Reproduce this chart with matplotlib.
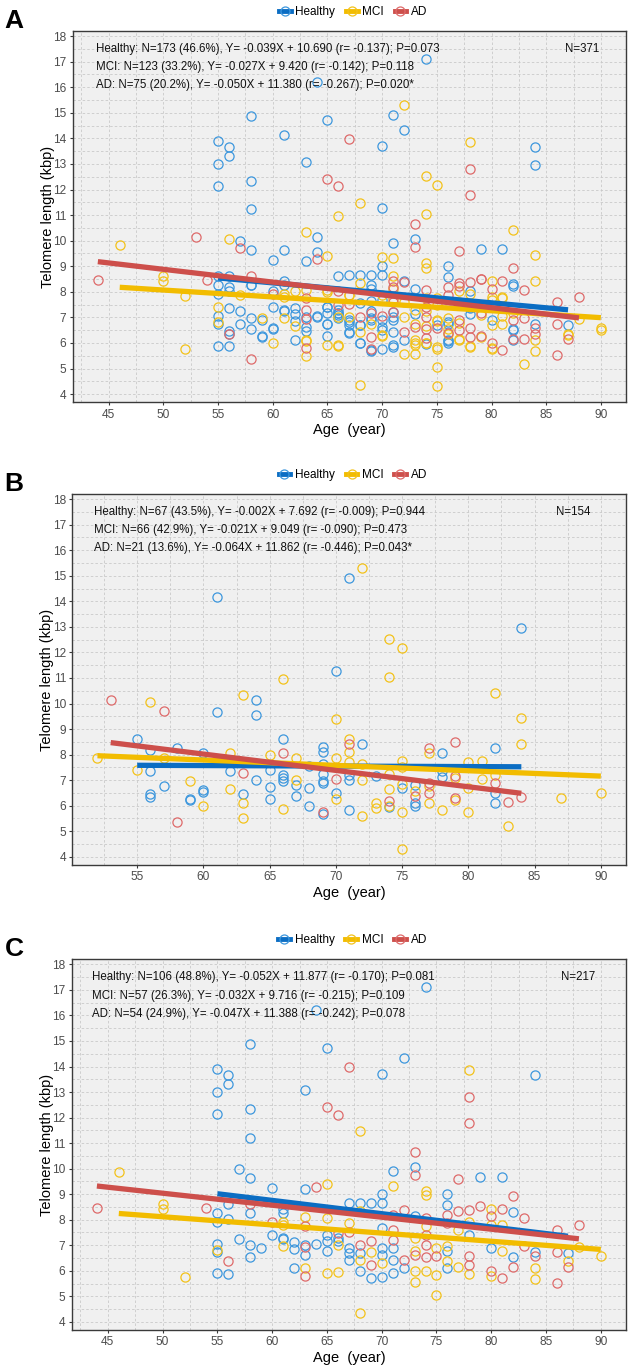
import matplotlib
matplotlib.use("Agg")
import matplotlib.pyplot as plt
from matplotlib.lines import Line2D
from matplotlib.ticker import MultipleLocator
import numpy as np

plt.rcParams['font.family'] = ['Liberation Sans', 'DejaVu Sans']

# ---------------- data ----------------
groups = ["Healthy", "MCI", "AD"]

# Panel B subset
b_h_age = [61, 70, 71, 84, 64, 64, 61, 55, 56, 58, 56, 56, 56, 57, 59, 59, 60, 60, 60, 62, 63, 64, 65, 65, 65,
           66, 66, 66, 66, 67, 67, 68, 68, 68, 69, 69, 69, 69, 69, 69, 69, 70, 72, 71, 71, 71, 73, 74, 75, 76,
           76, 76, 78, 78, 78, 82, 82, 82]
b_h_tl = [14.15, 11.28, 14.92, 12.95, 10.14, 9.54, 9.65, 8.6, 8.17, 8.25, 7.36, 6.45, 6.36, 6.76, 6.28, 6.23,
          6.6, 6.55, 8.05, 7.36, 6.45, 7.0, 7.39, 6.74, 6.26, 8.6, 7.19, 7.1, 6.97, 6.82, 6.39, 7.56, 6.69, 5.98,
          8.28, 8.1, 7.65, 7.26, 6.97, 6.88, 5.67, 6.49, 8.41, 7.2, 7.01, 5.85, 7.15, 5.96, 6.69, 6.82, 6.09, 6.0,
          8.05, 7.36, 7.12, 8.24, 6.49, 6.1]
b_m_age = [66, 72, 74, 75, 74, 56, 63, 70, 52, 57, 55, 59, 60, 62, 62, 63, 63, 65, 66, 67, 67, 70, 70, 71, 71,
           71, 72, 72, 72, 73, 73, 74, 74, 74, 75, 75, 75, 75, 75, 76, 77, 77, 77, 78, 79, 79, 80, 80, 80, 81,
           81, 82, 82, 83, 84, 84, 87, 90]
b_m_tl = [10.97, 15.3, 12.53, 12.18, 11.03, 10.06, 10.35, 9.38, 7.85, 7.88, 7.39, 6.97, 6.0, 8.05, 6.67, 6.09,
          5.5, 7.98, 5.89, 7.86, 7.0, 7.86, 6.27, 8.6, 8.12, 7.73, 7.62, 7.02, 5.58, 6.11, 5.93, 7.26, 6.67, 6.0,
          7.75, 7.5, 6.84, 5.77, 4.3, 6.56, 8.05, 6.78, 6.1, 5.84, 7.08, 6.24, 7.7, 6.71, 5.77, 7.75, 7.04, 10.4,
          7.19, 5.19, 9.45, 8.41, 6.31, 6.5]
b_a_age = [53, 57, 58, 63, 66, 69, 70, 71, 74, 76, 77, 77, 77, 79, 79, 79, 82, 83, 84]
b_a_tl = [10.14, 9.71, 5.38, 7.3, 8.05, 5.76, 7.06, 8.41, 6.19, 6.39, 8.24, 6.9, 6.49, 8.5, 7.17, 6.29, 6.9,
          6.16, 6.35]

# Panel C subset
c_h_age = [55, 55, 55, 55, 55, 55, 55, 55, 56, 56, 56, 56, 56, 57, 57, 58, 58, 58, 58, 58, 58, 58, 59, 60, 60,
           61, 61, 61, 61, 62, 62, 62, 63, 63, 63, 63, 64, 64, 65, 65, 65, 65, 66, 66, 67, 67, 67, 67, 68, 68,
           68, 69, 69, 70, 70, 70, 70, 70, 70, 70, 71, 71, 71, 71, 72, 72, 73, 73, 74, 76, 76, 76, 76, 78, 79,
           80, 81, 82, 82, 84, 84, 87]
c_h_tl = [13.9, 13.0, 12.15, 8.28, 7.91, 7.05, 6.74, 5.9, 13.68, 13.3, 8.63, 8.02, 5.89, 9.97, 7.25, 14.88,
          12.34, 11.22, 9.64, 8.28, 6.99, 6.55, 6.88, 9.24, 7.4, 8.42, 8.28, 7.3, 7.26, 7.12, 6.84, 6.1, 13.08,
          9.2, 7.0, 6.63, 16.22, 7.05, 14.72, 7.42, 7.16, 6.76, 7.29, 7.16, 8.64, 6.89, 6.7, 6.44, 8.64, 6.7, 6.0,
          8.64, 5.72, 13.7, 9.02, 8.64, 7.68, 6.89, 6.63, 5.76, 9.92, 6.9, 6.44, 5.92, 14.32, 6.11, 10.08, 8.13,
          17.12, 9.02, 8.59, 6.76, 6.11, 7.42, 9.66, 6.89, 9.67, 8.29, 6.53, 13.65, 6.74, 6.7]
c_m_age = [46, 50, 50, 52, 55, 61, 61, 61, 63, 63, 65, 65, 65, 66, 66, 67, 68, 68, 68, 68, 69, 70, 71, 73, 73,
           73, 73, 74, 74, 74, 74, 75, 75, 75, 76, 76, 77, 77, 78, 78, 78, 80, 80, 80, 81, 81, 84, 84, 87, 88, 90]
c_m_tl = [9.85, 8.63, 8.42, 5.77, 6.82, 7.91, 7.78, 6.97, 8.09, 6.11, 9.4, 8.07, 5.92, 7.0, 5.94, 7.87, 11.48,
          8.33, 6.44, 4.35, 6.74, 6.3, 9.33, 7.29, 6.76, 5.98, 5.55, 9.14, 8.95, 7.74, 5.98, 6.89, 5.85, 5.07,
          6.96, 6.37, 7.61, 6.14, 13.86, 7.91, 5.88, 8.42, 7.81, 5.79, 7.81, 6.76, 6.11, 5.69, 6.37, 6.92, 6.57]
c_a_age = [44, 54, 56, 58, 60, 63, 63, 63, 64, 65, 66, 66, 67, 67, 68, 69, 69, 71, 71, 71, 72, 72, 73, 73, 73,
           74, 74, 74, 74, 75, 76, 76, 77, 77, 78, 78, 78, 78, 78, 79, 80, 80, 81, 81, 82, 82, 83, 83, 84, 86,
           86, 86, 87, 88]
c_a_tl = [8.45, 8.45, 6.37, 8.6, 7.9, 7.74, 6.92, 5.81, 9.29, 12.42, 12.12, 7.48, 13.97, 7.51, 7.02, 7.16, 6.24,
          8.2, 7.61, 7.22, 8.37, 6.44, 10.66, 9.76, 6.63, 8.07, 7.42, 7.02, 6.53, 6.57, 8.2, 7.87, 9.61, 8.33,
          12.81, 11.78, 8.39, 6.57, 6.24, 8.52, 8.13, 6.01, 8.43, 5.72, 8.94, 6.14, 8.07, 6.96, 6.57, 7.61, 6.74,
          5.53, 6.14, 7.81]

# Regression results (slope, intercept) and annotation texts
slopes_a = [-0.039, -0.027, -0.050]
inter_a = [10.690, 9.420, 11.380]
slopes_b = [-0.002, -0.021, -0.064]
inter_b = [7.692, 9.049, 11.862]
slopes_c = [-0.052, -0.032, -0.047]
inter_c = [11.877, 9.716, 11.388]

texts_a = ["Healthy: N=173 (46.6%), Y= -0.039X + 10.690 (r= -0.137); P=0.073",
           "MCI: N=123 (33.2%), Y= -0.027X + 9.420 (r= -0.142); P=0.118",
           "AD: N=75 (20.2%), Y= -0.050X + 11.380 (r= -0.267); P=0.020*"]
texts_b = ["Healthy: N=67 (43.5%), Y= -0.002X + 7.692 (r= -0.009); P=0.944",
           "MCI: N=66 (42.9%), Y= -0.021X + 9.049 (r= -0.090); P=0.473",
           "AD: N=21 (13.6%), Y= -0.064X + 11.862 (r= -0.446); P=0.043*"]
texts_c = ["Healthy: N=106 (48.8%), Y= -0.052X + 11.877 (r= -0.170); P=0.081",
           "MCI: N=57 (26.3%), Y= -0.032X + 9.716 (r= -0.215); P=0.109",
           "AD: N=54 (24.9%), Y= -0.047X + 11.388 (r= -0.242); P=0.078"]
totals = ["N=371", "N=154", "N=217"]
panel_letters = ["A", "B", "C"]

# ---------------- style ----------------
line_cols = ['#0B6DC3', '#F2BC00', '#CD4F4B']
pt_cols = ['#3D97DD', '#F3C21A', '#DE6A6A']

W, H = 631, 1368
fig = plt.figure(figsize=(W / 100, H / 100), dpi=100)

# panel pixel boxes: left, top, right, bottom
boxes = [(72.7, 31, 626, 402.3), (72.3, 494, 626, 865), (71.7, 959.3, 626, 1330)]
xlims = [(41.7, 92.3), (50.1, 91.9), (41.7, 92.3)]
ylim = (3.68, 18.2)
text_x = [0.042, 0.040, 0.036]
total_x = [0.921, 0.905, 0.914]

data_a = [(b_h_age + c_h_age, b_h_tl + c_h_tl),
          (b_m_age + c_m_age, b_m_tl + c_m_tl),
          (b_a_age + c_a_age, b_a_tl + c_a_tl)]
data_b = [(b_h_age, b_h_tl), (b_m_age, b_m_tl), (b_a_age, b_a_tl)]
data_c = [(c_h_age, c_h_tl), (c_m_age, c_m_tl), (c_a_age, c_a_tl)]
panels = [(data_a, slopes_a, inter_a, texts_a),
          (data_b, slopes_b, inter_b, texts_b),
          (data_c, slopes_c, inter_c, texts_c)]

for i, (data, sl, ic, txts) in enumerate(panels):
    l, t, r, b = boxes[i]
    ax = fig.add_axes([l / W, 1 - b / H, (r - l) / W, (b - t) / H])
    ax.set_facecolor('#F0F0F0')
    ax.set_xlim(*xlims[i])
    ax.set_ylim(*ylim)
    ax.xaxis.set_major_locator(MultipleLocator(5))
    ax.xaxis.set_minor_locator(MultipleLocator(2.5))
    ax.yaxis.set_major_locator(MultipleLocator(1))
    ax.yaxis.set_minor_locator(MultipleLocator(0.5))
    ax.grid(which='both', color='#C9C9C9', linestyle=(0, (3, 2.5)), linewidth=0.6)
    ax.set_axisbelow(True)
    for s in ax.spines.values():
        s.set_color('#3A3A3A')
        s.set_linewidth(1.0)
    ax.tick_params(which='major', length=2.5, width=0.8, color='#3A3A3A',
                   labelsize=8.6, labelcolor='#4D4D4D', pad=2)
    ax.tick_params(which='minor', length=0)

    # points
    for g in range(3):
        xs, ys = data[g]
        ax.plot(xs, ys, linestyle='none', marker='o', markersize=6.6,
                markerfacecolor='none', markeredgecolor=pt_cols[g], markeredgewidth=0.9, zorder=3)
    # regression lines
    for g in range(3):
        xs = np.array(data[g][0])
        xx = np.array([xs.min(), xs.max()])
        ax.plot(xx, sl[g] * xx + ic[g], color=line_cols[g], linewidth=3.8,
                solid_capstyle='butt', zorder=4)

    ph = b - t
    for k, s in enumerate(txts):
        ax.text(text_x[i], 1 - (18 + 18.2 * k) / ph, s, transform=ax.transAxes,
                ha='left', va='center', fontsize=8.3, color='#111111', zorder=5)
    ax.text(total_x[i], 1 - 18 / ph, totals[i], transform=ax.transAxes,
            ha='center', va='center', fontsize=8.3, color='#111111', zorder=5)

    ax.set_xlabel('Age  (year)', fontsize=10.5, color='black', labelpad=2)
    ax.set_ylabel('Telomere length (kbp)', fontsize=10.5, color='black', labelpad=-1)

    # panel letter
    fig.text(14 / W, 1 - (t - 10) / H, panel_letters[i], fontsize=19, fontweight='bold',
             ha='center', va='center', color='black')

    # legend
    handles = [Line2D([0], [0], color=line_cols[g], linewidth=3.5, marker='o', markersize=6.5,
                      markerfacecolor='none', markeredgecolor=pt_cols[g], markeredgewidth=0.9)
               for g in range(3)]
    fig.legend(handles, groups, loc='center', bbox_to_anchor=((l + r) / 2 / W + 0.006, 1 - (t - 19) / H),
               ncol=3, frameon=False, fontsize=8.5, handlelength=1.0, handletextpad=0.4,
               columnspacing=0.9, borderpad=0.1)

fig.savefig('out.png', dpi=100)
